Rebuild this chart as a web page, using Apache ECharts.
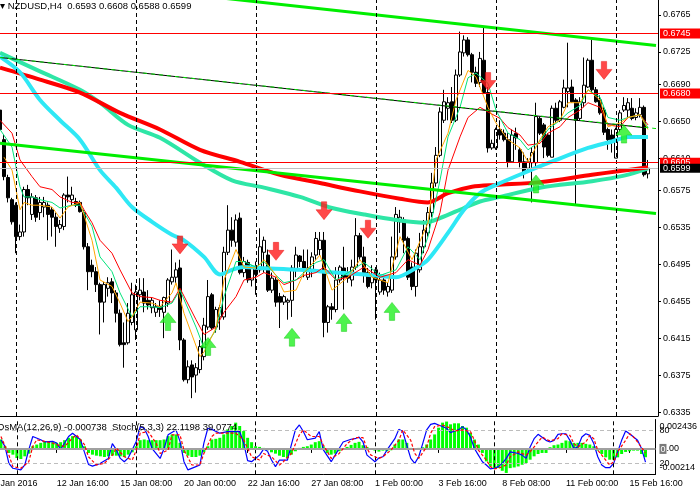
<!DOCTYPE html>
<html><head><meta charset="utf-8">
<script src="https://cdn.jsdelivr.net/npm/echarts@6.0.0/dist/echarts.min.js"></script>
<style>html,body{margin:0;padding:0;background:#fff;overflow:hidden;width:700px;height:498px}#c{position:absolute;left:-10px;top:0;width:710px;height:498px}</style>
</head><body><div id="c"></div>
<script>
// ---- data (bar 0 = 8 Jan 2016 08:00, H4 bars) ----
const openP = [.6662,.6630,.6589,.6565,.6559,.6525,.6530,.6576,.6549,.6567,
.6551,.6557,.6559,.6554,.6546,.6534,.6536,.6570,.6565,.6563,
.6562,.6551,.6514,.6494,.6487,.6473,.6454,.6469,.6476,.6464,
.6442,.6410,.6410,.6432,.6424,.6462,.6465,.6456,.6448,.6443,
.6449,.6443,.6453,.6476,.6481,.6491,.6413,.6370,.6386,.6375,
.6381,.6395,.6427,.6462,.6427,.6438,.6438,.6508,.6532,.6519,
.6545,.6486,.6497,.6478,.6489,.6489,.6508,.6505,.6467,.6478,
.6460,.6454,.6454,.6456,.6489,.6504,.6498,.6481,.6489,.6505,
.6511,.6521,.6432,.6449,.6446,.6478,.6491,.6483,.6478,.6492,
.6526,.6503,.6486,.6475,.6489,.6465,.6478,.6465,.6467,.6503,
.6541,.6543,.6523,.6492,.6471,.6489,.6514,.6529,.6551,.6583,
.6613,.6651,.6664,.6671,.6651,.6700,.6724,.6738,.6722,.6703,
.6692,.6716,.6681,.6621,.6621,.6641,.6637,.6630,.6606,.6637,
.6619,.6606,.6599,.6605,.6605,.6653,.6646,.6635,.6611,.6664,
.6651,.6665,.6682,.6687,.6673,.6653,.6670,.6687,.6716,.6684,
.6673,.6662,.6641,.6635,.6610,.6641,.6662,.6662,.6664,.6654,
.6657,.6665,.6593];
const closeP = [.6641,.6590,.6567,.6541,.6525,.6530,.6576,.6567,.6568,.6546,
.6562,.6562,.6549,.6546,.6536,.6538,.6570,.6568,.6570,.6559,
.6552,.6514,.6487,.6487,.6473,.6454,.6473,.6475,.6464,.6442,
.6408,.6408,.6442,.6462,.6465,.6467,.6453,.6451,.6456,.6449,
.6446,.6459,.6478,.6481,.6489,.6413,.6370,.6384,.6373,.6383,
.6406,.6429,.6460,.6426,.6446,.6448,.6508,.6532,.6521,.6543,
.6486,.6498,.6478,.6491,.6484,.6514,.6521,.6467,.6480,.6454,
.6454,.6460,.6456,.6491,.6505,.6498,.6491,.6491,.6503,.6523,
.6521,.6432,.6449,.6446,.6478,.6492,.6481,.6480,.6492,.6526,
.6503,.6486,.6471,.6483,.6478,.6478,.6467,.6471,.6503,.6549,
.6546,.6521,.6481,.6471,.6507,.6514,.6532,.6551,.6583,.6613,
.6660,.6671,.6670,.6651,.6700,.6725,.6738,.6722,.6703,.6691,
.6718,.6681,.6621,.6626,.6641,.6635,.6630,.6606,.6635,.6632,
.6606,.6595,.6606,.6616,.6655,.6637,.6622,.6613,.6664,.6651,
.6671,.6686,.6686,.6671,.6651,.6671,.6689,.6716,.6684,.6671,
.6659,.6638,.6630,.6630,.6641,.6659,.6667,.6670,.6653,.6659,
.6665,.6592,.6599];
const lowP = [.6633,.6586,.6562,.6538,.6507,.6521,.6525,.6559,.6543,.6541,
.6543,.6546,.6521,.6525,.6514,.6529,.6532,.6562,.6559,.6557,
.6551,.6511,.6467,.6481,.6465,.6419,.6432,.6460,.6453,.6432,
.6406,.6383,.6408,.6429,.6413,.6456,.6443,.6446,.6442,.6438,
.6438,.6415,.6449,.6473,.6475,.6402,.6368,.6366,.6350,.6356,
.6377,.6391,.6424,.6424,.6421,.6424,.6435,.6505,.6514,.6514,
.6484,.6481,.6475,.6471,.6462,.6486,.6486,.6465,.6464,.6449,
.6426,.6451,.6435,.6438,.6481,.6492,.6481,.6478,.6481,.6500,
.6505,.6416,.6421,.6435,.6443,.6475,.6446,.6475,.6471,.6489,
.6500,.6475,.6469,.6469,.6435,.6462,.6462,.6460,.6464,.6500,
.6529,.6507,.6478,.6467,.6460,.6486,.6507,.6525,.6546,.6579,
.6611,.6648,.6651,.6648,.6649,.6698,.6720,.6720,.6692,.6687,
.6687,.6680,.6616,.6619,.6619,.6630,.6628,.6600,.6605,.6619,
.6600,.6588,.6594,.6562,.6600,.6635,.6610,.6611,.6611,.6648,
.6649,.6664,.6665,.6670,.6559,.6651,.6665,.6686,.6680,.6670,
.6657,.6635,.6619,.6616,.6610,.6638,.6660,.6654,.6651,.6651,
.6654,.6590,.6588];
const highP = [.6676,.6635,.6592,.6567,.6562,.6538,.6579,.6581,.6572,.6570,
.6568,.6568,.6562,.6557,.6551,.6543,.6572,.6590,.6579,.6567,
.6564,.6554,.6518,.6500,.6492,.6475,.6476,.6481,.6480,.6467,
.6446,.6432,.6453,.6475,.6473,.6480,.6480,.6467,.6459,.6453,
.6456,.6460,.6480,.6511,.6497,.6500,.6415,.6391,.6391,.6388,
.6413,.6437,.6478,.6464,.6449,.6451,.6514,.6559,.6546,.6549,
.6551,.6503,.6500,.6494,.6498,.6534,.6525,.6511,.6486,.6481,
.6464,.6462,.6458,.6494,.6514,.6505,.6511,.6511,.6508,.6530,
.6530,.6530,.6451,.6453,.6492,.6494,.6514,.6492,.6500,.6545,
.6529,.6514,.6491,.6494,.6492,.6486,.6484,.6475,.6525,.6557,
.6554,.6546,.6525,.6497,.6511,.6529,.6543,.6557,.6594,.6622,
.6665,.6684,.6676,.6687,.6706,.6747,.6743,.6741,.6724,.6709,
.6725,.6751,.6687,.6630,.6643,.6651,.6641,.6637,.6641,.6643,
.6622,.6616,.6610,.6622,.6670,.6655,.6648,.6637,.6667,.6670,
.6673,.6695,.6735,.6695,.6675,.6676,.6719,.6718,.6738,.6687,
.6678,.6665,.6643,.6641,.6643,.6662,.6676,.6675,.6675,.6664,
.6675,.6667,.6608];

// moving averages: [bar, price]
const maThickRed = [[0,.6708],[10,.6695],[20,.6681],[30,.6659],[40,.6641],[50,.6619],[60,.6606],[70,.6592],[80,.6583],[90,.6574],[100,.6566],[107,.6562],[112,.6572],[118,.6579],[124,.6581],[135,.6584],[148,.6592],[155,.6596],[162,.6600]];
const maTeal = [[0,.6724],[10,.6704],[20,.6684],[25,.6670],[32,.6646],[40,.6632],[50,.6605],[58,.6586],[66,.6578],[75,.6568],[83,.6556],[91,.6549],[99,.6543],[106,.6540],[110,.6545],[116,.6556],[120,.6563],[125,.6568],[135,.6578],[148,.6585],[156,.6591],[162,.6599]];
const maCyan = [[0,.6720],[5,.6703],[10,.6673],[15,.6651],[20,.6630],[25,.6597],[29,.6578],[33,.6557],[38,.6541],[43,.6527],[46,.6521],[51,.6503],[55,.6484],[58,.6489],[61,.6492],[65,.6491],[75,.6489],[84,.6486],[91,.6484],[99,.6481],[104,.6491],[107,.6500],[112,.6529],[116,.6554],[120,.6572],[124,.6581],[131,.6594],[139,.6608],[147,.6621],[153,.6628],[157,.6633],[162,.6633]];
const maThinRed = [[0,.6651],[3,.6637],[5,.6608],[8,.6590],[10,.6579],[13,.6576],[15,.6568],[18,.6562],[20,.6562],[21,.6554],[23,.6540],[25,.6521],[28,.6507],[30,.6489],[33,.6464],[35,.6460],[38,.6459],[40,.6456],[43,.6454],[45,.6469],[49,.6435],[51,.6419],[54,.6427],[56,.6443],[59,.6460],[61,.6478],[64,.6481],[66,.6486],[69,.6481],[71,.6473],[74,.6478],[76,.6483],[79,.6486],[81,.6492],[84,.6478],[87,.6481],[91,.6492],[95,.6481],[99,.6486],[102,.6500],[105,.6494],[107,.6511],[110,.6551],[112,.6597],[115,.6633],[117,.6654],[120,.6665],[122,.6660],[125,.6653],[127,.6643],[130,.6635],[132,.6624],[135,.6626],[137,.6637],[140,.6644],[142,.6654],[145,.6662],[147,.6670],[150,.6665],[152,.6646],[155,.6644],[157,.6654],[160,.6657],[162,.6646]];
const maThinGreen = [[0,.6641],[3,.6622],[5,.6579],[6,.6568],[8,.6568],[10,.6565],[13,.6562],[15,.6556],[18,.6559],[20,.6559],[23,.6536],[25,.6503],[28,.6487],[30,.6464],[33,.6438],[35,.6449],[38,.6449],[40,.6448],[43,.6453],[45,.6467],[49,.6427],[51,.6404],[54,.6424],[56,.6460],[59,.6498],[61,.6498],[64,.6492],[66,.6498],[69,.6483],[71,.6475],[74,.6478],[76,.6486],[79,.6497],[81,.6500],[84,.6478],[87,.6486],[91,.6497],[95,.6483],[99,.6489],[102,.6514],[105,.6500],[107,.6525],[110,.6586],[112,.6633],[115,.6665],[117,.6697],[119,.6702],[122,.6691],[124,.6662],[127,.6637],[130,.6630],[132,.6619],[135,.6628],[137,.6641],[140,.6651],[142,.6659],[145,.6667],[147,.6684],[150,.6676],[152,.6654],[155,.6651],[157,.6654],[160,.6657],[162,.6643]];
const maOrange = [[1,.6611],[3,.6597],[4,.6576],[5,.6554],[6,.6562],[8,.6559],[10,.6559],[13,.6557],[15,.6545],[17,.6557],[20,.6562],[23,.6521],[25,.6478],[28,.6471],[30,.6453],[32,.6433],[33,.6438],[35,.6454],[38,.6453],[40,.6449],[43,.6464],[44,.6475],[46,.6442],[50,.6395],[51,.6400],[54,.6426],[56,.6478],[59,.6511],[61,.6492],[64,.6491],[66,.6500],[69,.6483],[71,.6465],[74,.6467],[76,.6486],[79,.6500],[80,.6505],[83,.6467],[87,.6481],[90,.6500],[93,.6481],[97,.6475],[100,.6525],[103,.6500],[107,.6540],[109,.6608],[112,.6637],[114,.6673],[117,.6705],[119,.6698],[122,.6665],[124,.6648],[127,.6630],[130,.6621],[132,.6606],[135,.6630],[137,.6644],[140,.6651],[142,.6670],[145,.6670],[147,.6684],[150,.6673],[152,.6644],[155,.6648],[157,.6654],[160,.6657],[162,.6641]];

// trend lines [bar, price]
const channelTop = [[50,.6786],[164,.6732]];
const channelBottom = [[0,.6626],[164,.6550]];
const trendMidBlack = [[0,.6719],[161,.6643]];
const trendMidGreen = [[0,.6719],[164,.6642]];
const hLevels = [0.6745, 0.6680, 0.6605];

// signal arrows [bar, price]
const downArrows = [[45,.6516],[69,.6509],[81,.6553],[92,.6533],[122,.6693],[151,.6705]];
const upArrows = [[42,.6433],[52,.6406],[73,.6416],[86,.6432],[98,.6444],[134,.6582],[156,.6636]];

// OsMA(12,26,9) per bar
const osma = [0.00084,0.00024,-0.00036,-0.00051,-0.00081,-0.00090,-0.00066,-0.00042,0.00024,0.00039,
0.00054,0.00069,0.00069,0.00060,0.00054,0.00060,0.00078,0.00099,0.00114,0.00108,
0.00084,0.00024,-0.00036,-0.00051,-0.00060,-0.00066,-0.00072,-0.00066,-0.00060,-0.00060,
-0.00066,-0.00072,-0.00051,-0.00030,0.00024,0.00078,0.00084,0.00078,0.00078,0.00078,
0.00078,0.00084,0.00114,0.00129,0.00129,0.00054,-0.00036,-0.00060,-0.00072,-0.00072,
-0.00060,-0.00030,0.00024,0.00084,0.00090,0.00099,0.00129,0.00174,0.00204,0.00234,
0.00204,0.00159,0.00099,0.00060,0.00024,0.00018,0.00009,-0.00012,-0.00030,-0.00042,
-0.00060,-0.00072,-0.00081,-0.00051,-0.00021,0.00009,0.00018,0.00024,0.00039,0.00060,
0.00069,0.00024,-0.00036,-0.00051,-0.00042,-0.00021,-0.00009,0.00018,0.00036,0.00054,
0.00063,0.00033,0.00018,0.00003,-0.00015,-0.00024,-0.00015,-0.00021,-0.00012,0.00039,
0.00084,0.00084,0.00054,0.00009,0.00000,0.00009,0.00015,0.00039,0.00084,0.00129,
0.00189,0.00234,0.002436,0.00219,0.00228,0.00228,0.00204,0.00189,0.00144,0.00084,
0.00039,-0.00036,-0.00111,-0.00156,-0.00171,-0.00171,-0.00195,-0.00214,-0.00171,-0.00165,
-0.00156,-0.00141,-0.00126,-0.00096,-0.00066,-0.00045,-0.00036,-0.00036,0.00015,0.00033,
0.00039,0.00054,0.00075,0.00069,0.00054,0.00054,0.00054,0.00045,0.00039,0.00024,
-0.00015,-0.00045,-0.00075,-0.00096,-0.00096,-0.00075,-0.00045,-0.00027,-0.00021,-0.00015,
-0.00015,-0.00045,-0.000738];

// Stochastic(5,3,3) [bar, value]
const stochMain = [[0,63],[1,51],[2,20],[3,11],[5,8],[6,17],[7,45],[8,69],[10,63],[11,59],[13,60],[14,57],[15,45],[16,57],[17,69],[18,75],[20,63],[21,40],[22,18],[23,15],[25,20],[27,29],[28,56],[29,45],[30,29],[31,23],[32,30],[33,45],[34,60],[35,87],[36,84],[37,69],[38,47],[40,29],[41,47],[42,72],[44,81],[45,60],[46,23],[47,8],[49,14],[50,17],[51,57],[52,84],[53,82],[55,75],[57,78],[58,78],[60,78],[61,57],[62,25],[63,23],[65,35],[66,46],[67,42],[68,26],[69,14],[70,26],[72,26],[73,54],[74,81],[75,90],[76,78],[77,63],[79,66],[80,78],[81,45],[83,23],[84,35],[85,47],[86,59],[88,64],[89,65],[90,68],[91,59],[92,35],[93,29],[94,23],[95,30],[96,32],[97,44],[99,65],[100,82],[101,78],[102,53],[103,29],[104,20],[105,32],[106,56],[107,81],[108,91],[109,93],[110,90],[112,84],[113,76],[114,79],[115,81],[116,87],[117,81],[118,68],[119,47],[120,35],[121,23],[122,17],[123,10],[124,11],[125,14],[126,20],[127,29],[128,41],[130,38],[131,35],[132,29],[133,50],[134,65],[135,73],[137,62],[138,59],[139,62],[140,73],[141,74],[142,74],[143,62],[144,47],[145,50],[146,68],[147,74],[148,71],[149,56],[150,32],[151,17],[152,12],[153,12],[154,20],[155,41],[156,62],[157,79],[158,74],[159,68],[160,62],[161,47],[162,22.1198]];
const stochSignal = [[0,69],[2,35],[3,14],[5,11],[7,23],[8,51],[9,63],[11,60],[13,57],[14,54],[16,51],[18,66],[19,72],[21,54],[22,32],[24,17],[26,20],[28,35],[29,48],[31,32],[33,26],[34,44],[35,75],[37,78],[39,57],[40,38],[42,44],[43,72],[45,72],[46,44],[48,17],[50,17],[51,38],[53,69],[54,75],[56,75],[58,75],[59,75],[61,63],[63,32],[65,26],[66,38],[68,32],[70,17],[71,23],[73,38],[75,72],[76,81],[78,69],[80,69],[81,54],[83,29],[85,38],[87,56],[89,67],[91,67],[92,47],[93,35],[95,29],[96,32],[98,44],[100,62],[101,81],[103,62],[104,38],[105,29],[107,50],[108,75],[109,87],[111,90],[113,84],[114,79],[116,81],[118,78],[119,62],[120,44],[122,26],[123,14],[124,10],[125,11],[127,17],[128,32],[130,41],[132,35],[133,41],[135,59],[136,68],[137,64],[138,61],[140,65],[141,74],[143,71],[144,56],[145,50],[147,59],[148,71],[149,65],[150,44],[152,26],[153,17],[154,23],[155,41],[157,62],[158,74],[159,68],[160,59],[162,39.0774]];

// axes
const yTicks = [0.6335,0.6375,0.6415,0.6455,0.6495,0.6535,0.6575,0.6610,0.6650,0.6690,0.6725,0.6765];
const weekBars = [4,34,64,94,124,154];
const xTickBars = [-2,14,30,46,62,78,94,110,126,142,158];
const xTickLabels = ['8 Jan 2016','12 Jan 16:00','15 Jan 08:00','20 Jan 00:00','22 Jan 16:00','27 Jan 08:00','1 Feb 00:00','3 Feb 16:00','8 Feb 08:00','11 Feb 00:00','15 Feb 16:00'];
const osmaTicks = [-0.00214, 0, 0.002436];
const stochTicks = [20, 80];

// ---- build ----
const FONT = "'Liberation Sans', Arial, sans-serif";
const PAD = 2, NCAT = 167;
const cats = [];
for (let i = 0; i < NCAT; i++) cats.push('b' + (i - PAD));
const pairs = a => a.map(p => [p[0] + PAD, p[1]]);
const N = openP.length;
const candleData = cats.map((_, i) => { const k = i - PAD; return (k >= 0 && k < N) ? [openP[k], closeP[k], lowP[k], highP[k]] : ['-','-','-','-']; });
const osmaData = cats.map((_, i) => { const k = i - PAD; return (k >= 0 && k < osma.length) ? osma[k] : '-'; });
const tickMap = {}; xTickBars.forEach((b, j) => { tickMap[b + PAD] = xTickLabels[j]; });
const isTick = idx => tickMap[idx] !== undefined;
const weekLines = weekBars.map(b => ({xAxis: b + PAD}));
const L = N - 1;

const chart = echarts.init(document.getElementById('c'), null, {width: 710, height: 498});
const thin = (name, data, color, w, extra) => Object.assign({
  name, type: 'line', xAxisIndex: 0, yAxisIndex: 0, data: pairs(data), showSymbol: false, symbol: 'none',
  lineStyle: {color, width: w}, silent: true, z: 4, animation: false
}, extra || {});

chart.setOption({
  animation: false,
  textStyle: {fontFamily: FONT},
  title: {text: '\u25BE NZDUSD,H4  ' + [openP[L], highP[L], lowP[L], closeP[L]].map(v => v.toFixed(4)).join(' '),
    left: 10, top: 1, padding: 0, textStyle: {fontSize: 9.5, fontWeight: 'normal', color: '#000', fontFamily: FONT}},
  graphic: [{type: 'text', x: 7, y: 422, z: 100,
    style: {text: 'OsMA(12,26,9) ' + osma[osma.length - 1].toFixed(6) + '  Stoch(5,3,3) ' + stochMain[stochMain.length - 1][1].toFixed(4) + ' ' + stochSignal[stochSignal.length - 1][1].toFixed(4),
      fill: '#000', font: "9.5px 'Liberation Sans', Arial, sans-serif"}}],
  grid: [
    {left: 0, width: 668, top: 0, height: 416},
    {left: 0, width: 668, top: 419.5, height: 54.8}
  ],
  xAxis: [
    {type: 'category', gridIndex: 0, data: cats, axisLine: {show: true, lineStyle: {color: '#000', width: 1}}, axisTick: {show: false}, axisLabel: {show: false}, splitLine: {show: false}},
    {type: 'category', gridIndex: 1, data: cats, axisLine: {show: true, lineStyle: {color: '#000', width: 1}},
      axisTick: {show: true, alignWithLabel: true, interval: (i) => isTick(i), length: 4, lineStyle: {color: '#000'}},
      axisLabel: {interval: (i) => isTick(i), formatter: (v, i) => tickMap[i] || '', align: 'left', fontSize: 9, color: '#000', margin: 5, fontFamily: FONT},
      splitLine: {show: false}},
    {type: 'category', gridIndex: 1, data: cats, position: 'top', axisLine: {show: true, lineStyle: {color: '#000', width: 1}}, axisTick: {show: false}, axisLabel: {show: false}}
  ],
  yAxis: [
    {type: 'value', gridIndex: 0, position: 'right', min: 0.633069, max: 0.678125,
      axisLine: {show: true, lineStyle: {color: '#000'}}, splitLine: {show: false},
      axisTick: {show: true, length: 3, customValues: yTicks, lineStyle: {color: '#000'}},
      axisLabel: {customValues: yTicks, formatter: v => v.toFixed(4), fontSize: 9, color: '#000', margin: 5, fontFamily: FONT}},
    {type: 'value', gridIndex: 1, position: 'right', min: -0.00226, max: 0.00262,
      axisLine: {show: true, lineStyle: {color: '#000'}}, splitLine: {show: false}, axisTick: {show: false},
      axisLabel: {customValues: osmaTicks, margin: 4, fontSize: 9, color: '#000', fontFamily: FONT,
        formatter: v => v === 0 ? '{g|0}{n|.00}' : (v > 0 ? '{t|' + v.toFixed(6) + '}' : '{b|' + v.toFixed(5) + '}'),
        rich: {g: {backgroundColor: '#7a7a7a', color: '#fff', fontSize: 9, padding: [1, 1, 0, 1]}, n: {fontSize: 9, color: '#000'},
               t: {fontSize: 9, color: '#000', padding: [9, 0, 0, 0]}, b: {fontSize: 9, color: '#000', padding: [0, 0, 10, 0]}}}},
    {type: 'value', gridIndex: 1, position: 'right', min: 0, max: 100,
      axisLine: {show: false}, splitLine: {show: false}, axisTick: {show: false},
      axisLabel: {customValues: stochTicks, margin: 4, fontSize: 9, color: '#000', fontFamily: FONT}}
  ],
  series: [
    {name: 'weeks', type: 'line', xAxisIndex: 0, yAxisIndex: 0, data: [], z: 1, silent: true,
      markLine: {silent: true, symbol: ['none', 'none'], label: {show: false}, animation: false,
        lineStyle: {color: '#000', width: 1, type: [4, 3]}, data: weekLines}},
    {name: 'price', type: 'candlestick', xAxisIndex: 0, yAxisIndex: 0, data: candleData, barWidth: 3, z: 3, silent: true,
      itemStyle: {color: '#ffffff', color0: '#000000', borderColor: '#000000', borderColor0: '#000000', borderWidth: 1}},
    thin('teal', maTeal, '#2ee6a6', 4, {smooth: 0.3}),
    thin('red200', maThickRed, '#ff0000', 4, {smooth: 0.3}),
    thin('cyan', maCyan, '#2ee8f5', 4, {smooth: 0.3}),
    thin('red', maThinRed, '#ff0000', 1),
    thin('green', maThinGreen, '#00e37a', 1),
    thin('orange', maOrange, '#ffa500', 1),
    thin('chTop', channelTop, '#00ee00', 3),
    thin('chBot', channelBottom, '#00ee00', 3),
    thin('midBlack', trendMidBlack, '#000000', 1),
    thin('midGreen', trendMidGreen, '#00dd00', 1, {lineStyle: {color: '#00dd00', width: 1, type: [4, 4]}}),
    {name: 'levels', type: 'line', xAxisIndex: 0, yAxisIndex: 0, data: [], z: 6, silent: true,
      markLine: {silent: true, symbol: ['none', 'none'], animation: false, precision: 5,
        data: hLevels.map(v => ({yAxis: v, lineStyle: {color: '#ff0000', width: 1, type: 'solid'},
          label: {show: true, position: 'end', distance: 2, formatter: p => p.value.toFixed(4), backgroundColor: '#ff0000', color: '#fff', fontSize: 9, padding: [1, 12, 0, 3], fontFamily: FONT}}))
          .concat([{yAxis: closeP[L], lineStyle: {color: '#c0c0c0', width: 1, type: 'solid'},
          label: {show: true, position: 'end', distance: 2, formatter: p => p.value.toFixed(4), backgroundColor: '#000', color: '#fff', fontSize: 9, padding: [0, 12, 0, 3], fontFamily: FONT}}])}},
    {name: 'down', type: 'scatter', xAxisIndex: 0, yAxisIndex: 0, data: pairs(downArrows), z: 8, silent: true,
      symbol: 'path://M5,0 L10,0 L10,8 L15,8 L7.5,18 L0,8 L5,8 Z', symbolSize: [16, 18],
      itemStyle: {color: '#ff1a1a', borderColor: '#e00000', borderWidth: 0.5}},
    {name: 'up', type: 'scatter', xAxisIndex: 0, yAxisIndex: 0, data: pairs(upArrows), z: 8, silent: true,
      symbol: 'path://M7.5,0 L15,10 L10,10 L10,18 L5,18 L5,10 L0,10 Z', symbolSize: [16, 18],
      itemStyle: {color: '#22f022', borderColor: '#00c000', borderWidth: 0.5}},
    {name: 'osma', type: 'bar', xAxisIndex: 1, yAxisIndex: 1, data: osmaData, barWidth: 3, z: 2, silent: true,
      itemStyle: {color: '#00ff00'},
      markLine: {silent: true, symbol: ['none', 'none'], label: {show: false}, animation: false, precision: 6,
        data: weekLines.map(w => Object.assign({lineStyle: {color: '#000', width: 1, type: [4, 3]}}, w))
          .concat([{yAxis: 0, lineStyle: {color: '#a0a0a0', width: 2, type: 'solid'}}])}},
    {name: 'stoch', type: 'line', xAxisIndex: 1, yAxisIndex: 2, data: pairs(stochMain), showSymbol: false, symbol: 'none', z: 4, silent: true,
      lineStyle: {color: '#0000ff', width: 1.2},
      markLine: {silent: true, symbol: ['none', 'none'], label: {show: false}, animation: false,
        lineStyle: {color: '#bdbdbd', width: 1, type: [4, 3]}, data: stochTicks.map(v => ({yAxis: v}))}},
    {name: 'signal', type: 'line', xAxisIndex: 1, yAxisIndex: 2, data: pairs(stochSignal), showSymbol: false, symbol: 'none', z: 5, silent: true,
      lineStyle: {color: '#ff0000', width: 1.2, type: [3, 2]}}
  ]
});
</script>
</body></html>
